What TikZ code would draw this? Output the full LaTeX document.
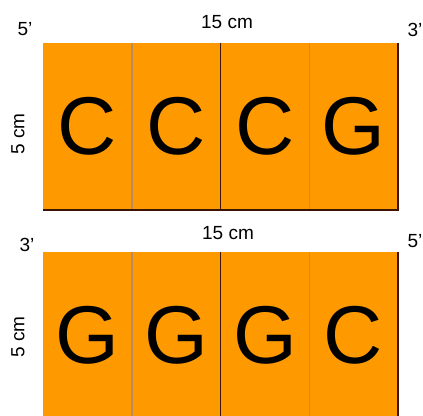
\documentclass[tikz,border=0pt]{standalone}
\usepackage{fontspec}
\setmainfont{Liberation Sans}
\usepackage{xcolor}
\definecolor{dnaorange}{RGB}{255,153,0}
\definecolor{dnaedge}{RGB}{60,20,0}
\definecolor{dnadiv}{RGB}{185,140,95}
\usetikzlibrary{positioning}
\tikzset{
  basebox/.style={fill=dnaorange,inner sep=0pt,outer sep=0pt,
        minimum width=88.75pt,minimum height=167pt,
        font=\fontsize{82}{82}\selectfont},
  lbl/.style={inner sep=0pt,font=\fontsize{19}{19}\selectfont},
  edgeline/.style={dnaedge,line width=1.5pt},
  divline/.style={dnadiv,line width=1.5pt}
}

\begin{document}
\begin{tikzpicture}[x=1pt,y=-1pt]
  \clip (0,0) rectangle (423,415);
  % top strand
  \node[basebox] (t1) at (87.4,126.5) {C};
  \node[basebox] (t2) at (176.1,126.5) {C};
  \node[basebox] (t3) at (264.9,126.5) {C};
  \node[basebox] (t4) at (353.6,126.5) {G};
  % bottom strand
  \node[basebox] (b1) at (87.4,335.5) {G};
  \node[basebox] (b2) at (176.1,335.5) {G};
  \node[basebox] (b3) at (264.9,335.5) {G};
  \node[basebox] (b4) at (353.6,335.5) {C};
  % dividers
  \draw[divline] (t1.north east) -- (t1.south east);
  \draw[divline] (t3.north east) -- (t3.south east);
  \draw[divline] (b1.north east) -- (b1.south east);
  \draw[divline] (b3.north east) -- (b3.south east);
  \draw[edgeline] (t2.north east) -- (t2.south east);
  \draw[edgeline] (b2.north east) -- (b2.south east);
  % outlines
  \draw[edgeline] (t4.north east) -- (t4.south east) -- (t1.south west);
  \draw[edgeline] (b4.north east) -- (b4.south east) -- (b1.south west);
  % labels
  \node[lbl] (t5) at (25,29) {5'};
  \node[lbl] (t3e) at (415,30) {3'};
  \node[lbl] (tlen) at (227,22) {15 cm};
  \node[lbl,rotate=90] (twid) at (18,134) {5 cm};
  \node[lbl] (b3e) at (27,245) {3'};
  \node[lbl] (b5) at (415,241) {5'};
  \node[lbl] (blen) at (228,233) {15 cm};
  \node[lbl,rotate=90] (bwid) at (18,337) {5 cm};
\end{tikzpicture}
\end{document}
